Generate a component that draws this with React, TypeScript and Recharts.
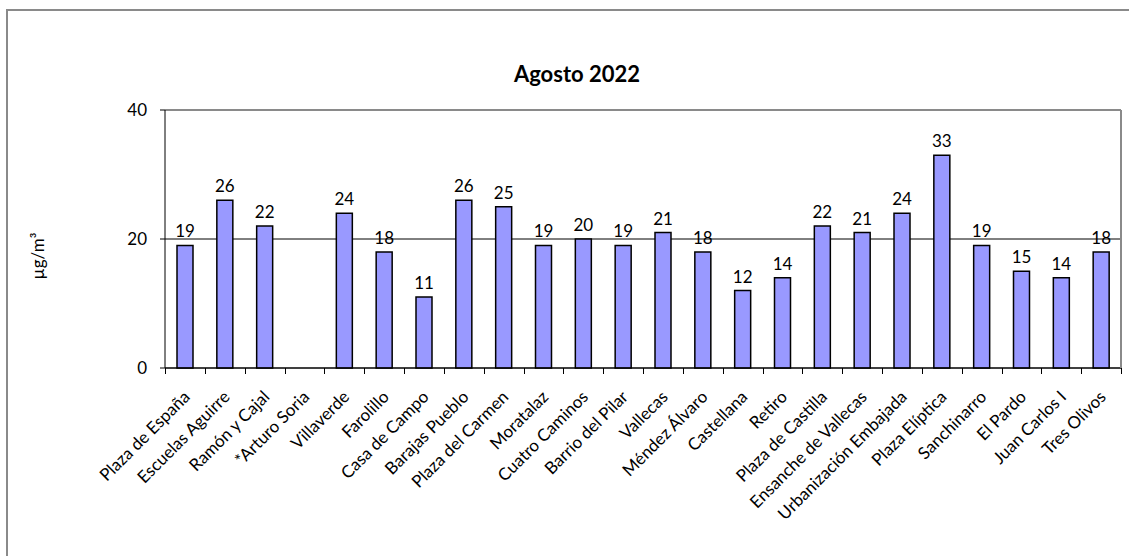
import { BarChart, Bar, XAxis, YAxis, CartesianGrid, LabelList, Customized } from "recharts";

const stations: string[] = [
  "Plaza de España",
  "Escuelas Aguirre",
  "Ramón y Cajal",
  "*Arturo Soria",
  "Villaverde",
  "Farolillo",
  "Casa de Campo",
  "Barajas Pueblo",
  "Plaza del Carmen",
  "Moratalaz",
  "Cuatro Caminos",
  "Barrio del Pilar",
  "Vallecas",
  "Méndez Álvaro",
  "Castellana",
  "Retiro",
  "Plaza de Castilla",
  "Ensanche de Vallecas",
  "Urbanización Embajada",
  "Plaza Elíptica",
  "Sanchinarro",
  "El Pardo",
  "Juan Carlos I",
  "Tres Olivos",
];

const values: (number | null)[] = [
  19, 26, 22, null, 24, 18, 11, 26, 25, 19, 20, 19, 21, 18, 12, 14, 22, 21, 24, 33, 19, 15, 14, 18,
];

const yTicks: number[] = [0, 20, 40];

const data = stations.map((name, i) => ({ name, value: values[i] }));

const FONT = "Lato, 'Open Sans', sans-serif";

const W = 1129;
const H = 556;
const M = { top: 109, right: 7, left: 105, bottom: 28 };
const Y_AXIS_W = 60;
const X_AXIS_H = 160;
const plotLeft = M.left + Y_AXIS_W;
const plotRight = W - M.right - 1;
const plotBottom = H - M.bottom - X_AXIS_H;
const band = (plotRight - plotLeft) / stations.length;

const CatTick = (props: any) => {
  const { x, y, payload } = props;
  const tx = x + 6;
  const ty = y + 22;
  return (
    <text
      x={tx}
      y={ty}
      transform={`rotate(-45 ${tx} ${ty})`}
      textAnchor="end"
      fontSize={17}
      fontFamily={FONT}
      fill="#000"
    >
      {payload.value}
    </text>
  );
};

// Excel-style tick marks on the category boundaries
const BoundaryTicks = () => (
  <g>
    {stations.concat("").map((_, i) => {
      const bx = Math.round(plotLeft + i * band) + 0.5;
      return <line key={i} x1={bx} x2={bx} y1={plotBottom} y2={plotBottom + 6} stroke="#000" strokeWidth={1} />;
    })}
  </g>
);

export default function App() {
  return (
    <div style={{ position: "absolute", left: 0, top: 0, width: W, height: H, fontFamily: FONT }}>
      {/* outer frame, only left/top edges visible in the crop */}
      <div
        style={{
          position: "absolute",
          left: 6,
          top: 9,
          width: W - 6,
          height: H - 9,
          borderLeft: "2px solid #8a8a8a",
          borderTop: "2px solid #8a8a8a",
          boxSizing: "border-box",
        }}
      />
      <div
        style={{
          position: "absolute",
          left: 0,
          width: 1154,
          top: 60,
          textAlign: "center",
          fontWeight: 700,
          fontSize: 22,
          color: "#000",
        }}
      >
        Agosto 2022
      </div>
      <div style={{ position: "absolute", left: 0, top: 0 }}>
        <BarChart width={W} height={H} data={data} margin={M} barSize={16}>
          <CartesianGrid vertical={false} stroke="#000" strokeWidth={1} />
          <XAxis
            dataKey="name"
            interval={0}
            height={X_AXIS_H}
            axisLine={{ stroke: "#000" }}
            tickLine={false}
            tick={<CatTick />}
          />
          <XAxis
            xAxisId="top"
            orientation="top"
            dataKey="name"
            height={1}
            tick={false}
            tickLine={false}
            axisLine={{ stroke: "#8a8a8a", strokeWidth: 2 }}
          />
          <YAxis
            domain={[0, 40]}
            ticks={yTicks}
            width={Y_AXIS_W}
            tickSize={5}
            tickMargin={13}
            tick={{ fill: "#000", fontSize: 17, fontFamily: FONT }}
            tickLine={{ stroke: "#000" }}
            axisLine={{ stroke: "#000" }}
            label={{
              content: () => (
                <text
                  x={44}
                  y={256}
                  transform="rotate(-90 44 256)"
                  textAnchor="middle"
                  fontSize={17}
                  fontFamily={FONT}
                  fill="#000"
                >
                  µg/m³
                </text>
              ),
            }}
          />
          <YAxis
            yAxisId="right"
            orientation="right"
            domain={[0, 40]}
            width={1}
            tick={false}
            tickLine={false}
            axisLine={{ stroke: "#8a8a8a", strokeWidth: 2 }}
          />
          <Bar dataKey="value" fill="#9999ff" stroke="#000" strokeWidth={1.5} isAnimationActive={false}>
            <LabelList dataKey="value" position="top" offset={8} fill="#000" fontSize={17} fontFamily={FONT} />
          </Bar>
          <Customized component={BoundaryTicks} />
        </BarChart>
      </div>
    </div>
  );
}
